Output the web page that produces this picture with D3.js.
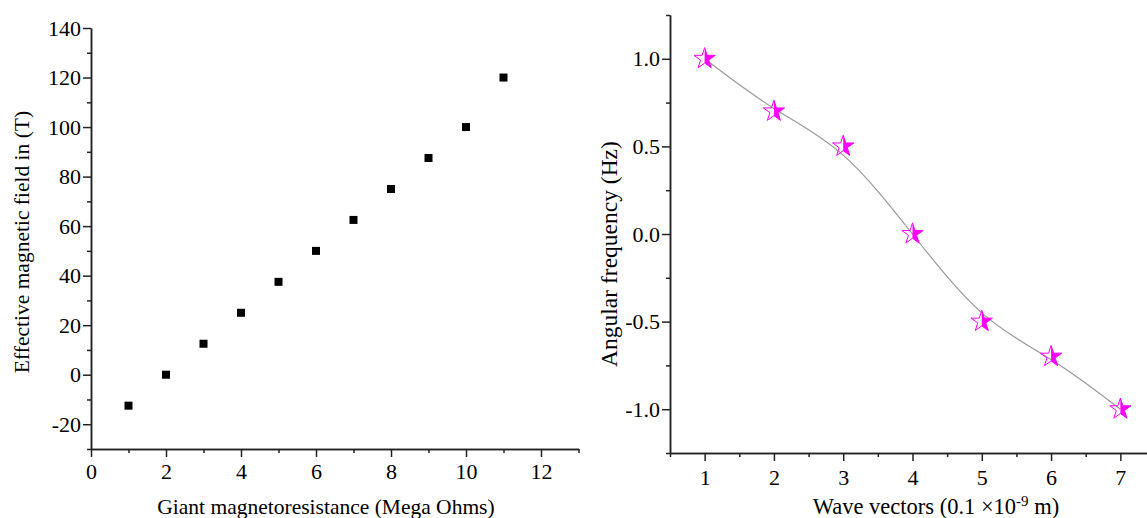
<!DOCTYPE html>
<html>
<head>
<meta charset="utf-8">
<script src="https://cdn.jsdelivr.net/npm/d3@7"></script>
<style>
  body { margin: 0; background: #fff; }
  svg text { font-family: "Liberation Serif", "Times New Roman", serif; fill: #000; }
  .axis path, .axis line { stroke: #222; stroke-width: 1.5; }
  .axis text { font-size: 22px; }
  .title { font-size: 21.5px; }
  .title.r { font-size: 22.5px; }
</style>
</head>
<body>
<div class="chart"></div>
<script>
// left panel data
const gmrX = [1, 2, 3, 4, 5, 6, 7, 8, 9, 10, 11];
const fieldY = [-12.5, 0, 12.5, 25, 37.5, 50, 62.5, 75, 87.5, 100, 120];
const leftXTicks = [0, 2, 4, 6, 8, 10, 12];
const leftYTicks = [-20, 0, 20, 40, 60, 80, 100, 120, 140];

// right panel data
const waveX = [1, 2, 3, 4, 5, 6, 7];
const freqY = [1.0, 0.7, 0.5, 0.0, -0.5, -0.7, -1.0];
const rightXTicks = [1, 2, 3, 4, 5, 6, 7];
const rightYTicks = [-1.0, -0.5, 0.0, 0.5, 1.0];

const svg = d3.select('.chart').append('svg')
    .attr('width', 1147).attr('height', 518);

// plain hyphen instead of d3's unicode minus
const fmt = spec => d => d3.format(spec)(d).replace('\u2212', '-');

// helper: major + minor ticks
function drawAxis(g, axisFn, scale, major, minor, f, pad) {
    g.append('g').attr('class', 'axis')
        .call(axisFn(scale).tickValues(minor).tickFormat('').tickSizeInner(4).tickSizeOuter(0));
    g.append('g').attr('class', 'axis')
        .call(axisFn(scale).tickValues(major).tickFormat(f).tickSizeInner(8).tickSizeOuter(0).tickPadding(pad));
}

// ---------- left chart ----------
const xL = d3.scaleLinear().domain([0, 13]).range([91, 578.5]);
const yL = d3.scaleLinear().domain([-30, 140]).range([449, 28]);

const left = svg.append('g');
drawAxis(left.append('g').attr('transform', `translate(0,${yL(-30)})`),
    d3.axisBottom, xL, leftXTicks, d3.range(1, 14, 2), fmt('d'), 6);
drawAxis(left.append('g').attr('transform', `translate(${xL(0)},0)`),
    d3.axisLeft, yL, leftYTicks, d3.range(-30, 140, 20), fmt('d'), 2);

left.selectAll('.pt').data(gmrX).enter().append('rect')
    .attr('class', 'pt')
    .attr('x', (d, i) => xL(d) - 4)
    .attr('y', (d, i) => yL(fieldY[i]) - 4)
    .attr('width', 8).attr('height', 8)
    .style('fill', '#000');

left.append('text').attr('class', 'title')
    .attr('x', 326).attr('y', 514).attr('text-anchor', 'middle')
    .text('Giant magnetoresistance (Mega Ohms)');
left.append('text').attr('class', 'title')
    .attr('transform', 'translate(29,242) rotate(-90)').attr('text-anchor', 'middle')
    .text('Effective magnetic field in (T)');

// ---------- right chart ----------
const xR = d3.scaleLinear().domain([0.5, 7.5]).range([670, 1155]);
const yR = d3.scaleLinear().domain([-1.25, 1.25]).range([453, 15]);

const right = svg.append('g');
drawAxis(right.append('g').attr('transform', `translate(0,${yR(-1.25)})`),
    d3.axisBottom, xR, rightXTicks, d3.range(0.5, 8, 1), fmt('d'), 8);
drawAxis(right.append('g').attr('transform', `translate(${xR(0.5)},0)`),
    d3.axisLeft, yR, rightYTicks, [-1.25, -0.75, -0.25, 0.25, 0.75, 1.25], fmt('.1f'), 2);

// smooth spline through the stars
const line = d3.line()
    .x((d, i) => xR(d))
    .y((d, i) => yR(freqY[i]))
    .curve(d3.curveBasis);
right.append('path').datum(waveX)
    .attr('d', line)
    .style('fill', 'none').style('stroke', '#999').style('stroke-width', 1.2);

// half filled stars
svg.append('defs').append('clipPath').attr('id', 'half')
    .append('rect').attr('x', 0).attr('y', -20).attr('width', 20).attr('height', 40);
const star = d3.symbol().type(d3.symbolStar).size(140);
const stars = right.selectAll('.star').data(waveX).enter().append('g')
    .attr('class', 'star')
    .attr('transform', (d, i) => `translate(${xR(d)},${yR(freqY[i])})`);
stars.append('path').attr('d', star)
    .style('fill', '#ff00ff').attr('clip-path', 'url(#half)');
stars.append('path').attr('d', star)
    .style('fill', 'none').style('stroke', '#ff00ff').style('stroke-width', 1);

right.append('text').attr('class', 'title r')
    .attr('x', 936).attr('y', 514).attr('text-anchor', 'middle')
    .text('Wave vectors (0.1 ×10')
    .append('tspan').attr('dy', -8).style('font-size', '15px').text('-9')
    .select(function () { return this.parentNode; })
    .append('tspan').attr('dy', 8).text(' m)');
right.append('text').attr('class', 'title r')
    .attr('transform', 'translate(617,254) rotate(-90)').attr('text-anchor', 'middle')
    .style('font-size', '23.5px')
    .text('Angular frequency (Hz)');
</script>
</body>
</html>
